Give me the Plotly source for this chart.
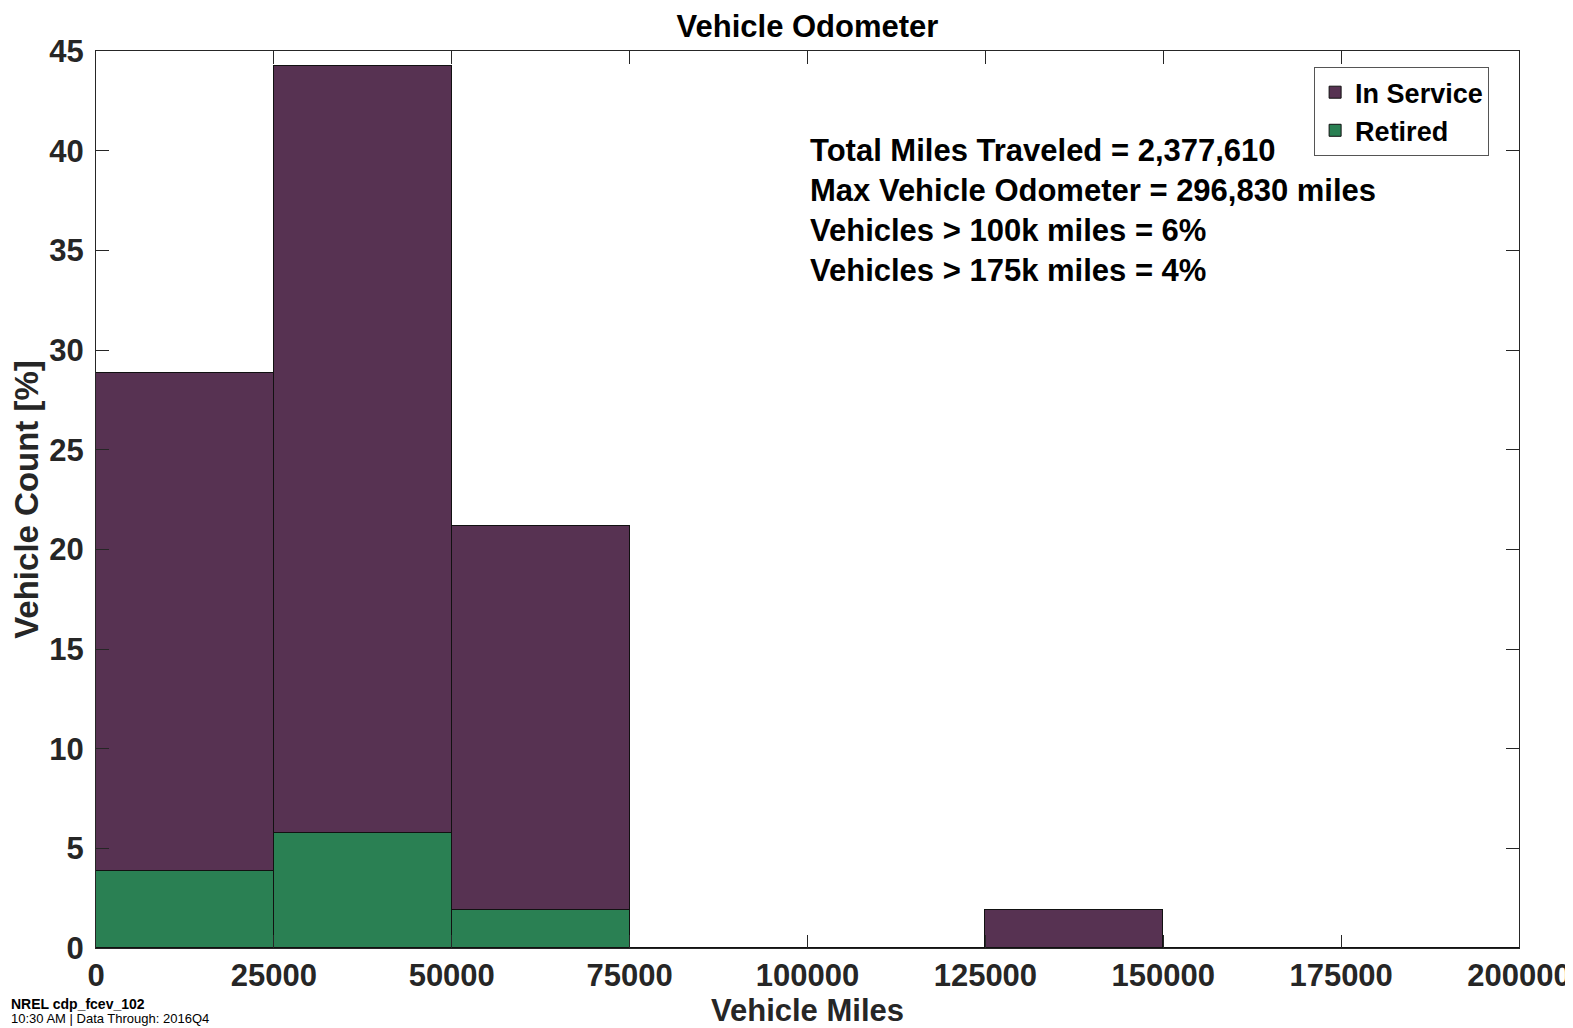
import plotly.graph_objects as go

# ---- data ----
bin_edges = [0, 25000, 50000, 75000, 100000, 125000, 150000, 175000, 200000]
bin_centers = [12500, 37500, 62500, 87500, 112500, 137500, 162500, 187500]
retired_pct = [3.85, 5.77, 1.92, 0, 0, 0, 0, 0]
in_service_pct = [25.00, 38.46, 19.23, 0, 0, 1.92, 0, 0]
x_tick_vals = [0, 25000, 50000, 75000, 100000, 125000, 150000, 175000, 200000]
x_tick_text = ["0", "25000", "50000", "75000", "100000", "125000", "150000", "175000", "200000"]
stats_lines = [
    "Total Miles Traveled = 2,377,610",
    "Max Vehicle Odometer = 296,830 miles",
    "Vehicles > 100k miles = 6%",
    "Vehicles > 175k miles = 4%",
]
stats_y = [40, 38, 36, 34]

PURPLE = "#573252"
GREEN = "#2a8053"
FONT = "Liberation Sans, Arial, sans-serif"
bin_width = bin_edges[1] - bin_edges[0]

# figure is shown with the page's 8px body margin, so size/margins compensate
W, H = 1565, 1020
L, T, R, B = 88, 43, 54, 80
PW, PH = W - L - R, H - T - B

fig = go.Figure()
fig.add_trace(go.Bar(
    x=bin_centers, y=retired_pct, width=bin_width, name="Retired",
    marker=dict(color=GREEN, line=dict(color="#111111", width=1)),
))
fig.add_trace(go.Bar(
    x=bin_centers, y=in_service_pct, width=bin_width, name="In Service",
    marker=dict(color=PURPLE, line=dict(color="#111111", width=1)),
))

annotations = []
for txt, yy in zip(stats_lines, stats_y):
    annotations.append(dict(
        x=100000, y=yy, xref="x", yref="y", text=txt, showarrow=False,
        xanchor="left", yanchor="middle",
        font=dict(family=FONT, size=31, color="#000000", weight="bold"),
    ))
annotations.append(dict(
    x=-(L - 1) / PW, y=-(996 - (H - B)) / PH, xref="paper", yref="paper",
    text="NREL cdp_fcev_102",
    showarrow=False, xanchor="left", yanchor="middle",
    font=dict(family=FONT, size=14, color="#000000", weight="bold"),
))
annotations.append(dict(
    x=-(L - 1) / PW, y=-(1010 - (H - B)) / PH, xref="paper", yref="paper",
    text="10:30 AM | Data Through: 2016Q4",
    showarrow=False, xanchor="left", yanchor="middle",
    font=dict(family=FONT, size=13, color="#000000"),
))

fig.update_layout(
    width=W, height=H,
    barmode="stack", bargap=0,
    paper_bgcolor="white", plot_bgcolor="white",
    margin=dict(l=L, r=R, t=T, b=B, autoexpand=False),
    title=dict(text="Vehicle Odometer", x=0.5, xref="paper", xanchor="center",
               y=1 - 18 / H, yanchor="middle", automargin=False,
               font=dict(family=FONT, size=31, color="#000000", weight="bold")),
    showlegend=True,
    legend=dict(
        x=0.979, y=0.982, xanchor="right", yanchor="top",
        traceorder="reversed",
        bgcolor="white", bordercolor="#555555", borderwidth=1,
        font=dict(family=FONT, size=27, color="#000000", weight="bold"),
        itemwidth=30, tracegroupgap=0,
    ),
    annotations=annotations,
    font=dict(family=FONT),
)

fig.update_xaxes(
    range=[bin_edges[0], bin_edges[-1]], automargin=False,
    tickmode="array", tickvals=x_tick_vals, ticktext=x_tick_text,
    ticks="inside", ticklen=13, tickwidth=1, tickcolor="#262626",
    showline=True, linecolor="#262626", linewidth=1, mirror="ticks",
    showgrid=False, zeroline=False,
    tickfont=dict(family=FONT, size=31, color="#262626", weight="bold"),
    title=dict(text="Vehicle Miles", standoff=7,
               font=dict(family=FONT, size=31, color="#262626", weight="bold")),
)
fig.update_yaxes(
    range=[0, 45], dtick=5, tick0=0, automargin=False,
    ticks="inside", ticklen=13, tickwidth=1, tickcolor="#262626",
    showline=True, linecolor="#262626", linewidth=1, mirror="ticks",
    showgrid=False, zeroline=False, ticklabelstandoff=5,
    tickfont=dict(family=FONT, size=31, color="#262626", weight="bold"),
    title=dict(text="Vehicle Count [%]", standoff=8,
               font=dict(family=FONT, size=33, color="#262626", weight="bold")),
)

fig.write_html("out.html")
